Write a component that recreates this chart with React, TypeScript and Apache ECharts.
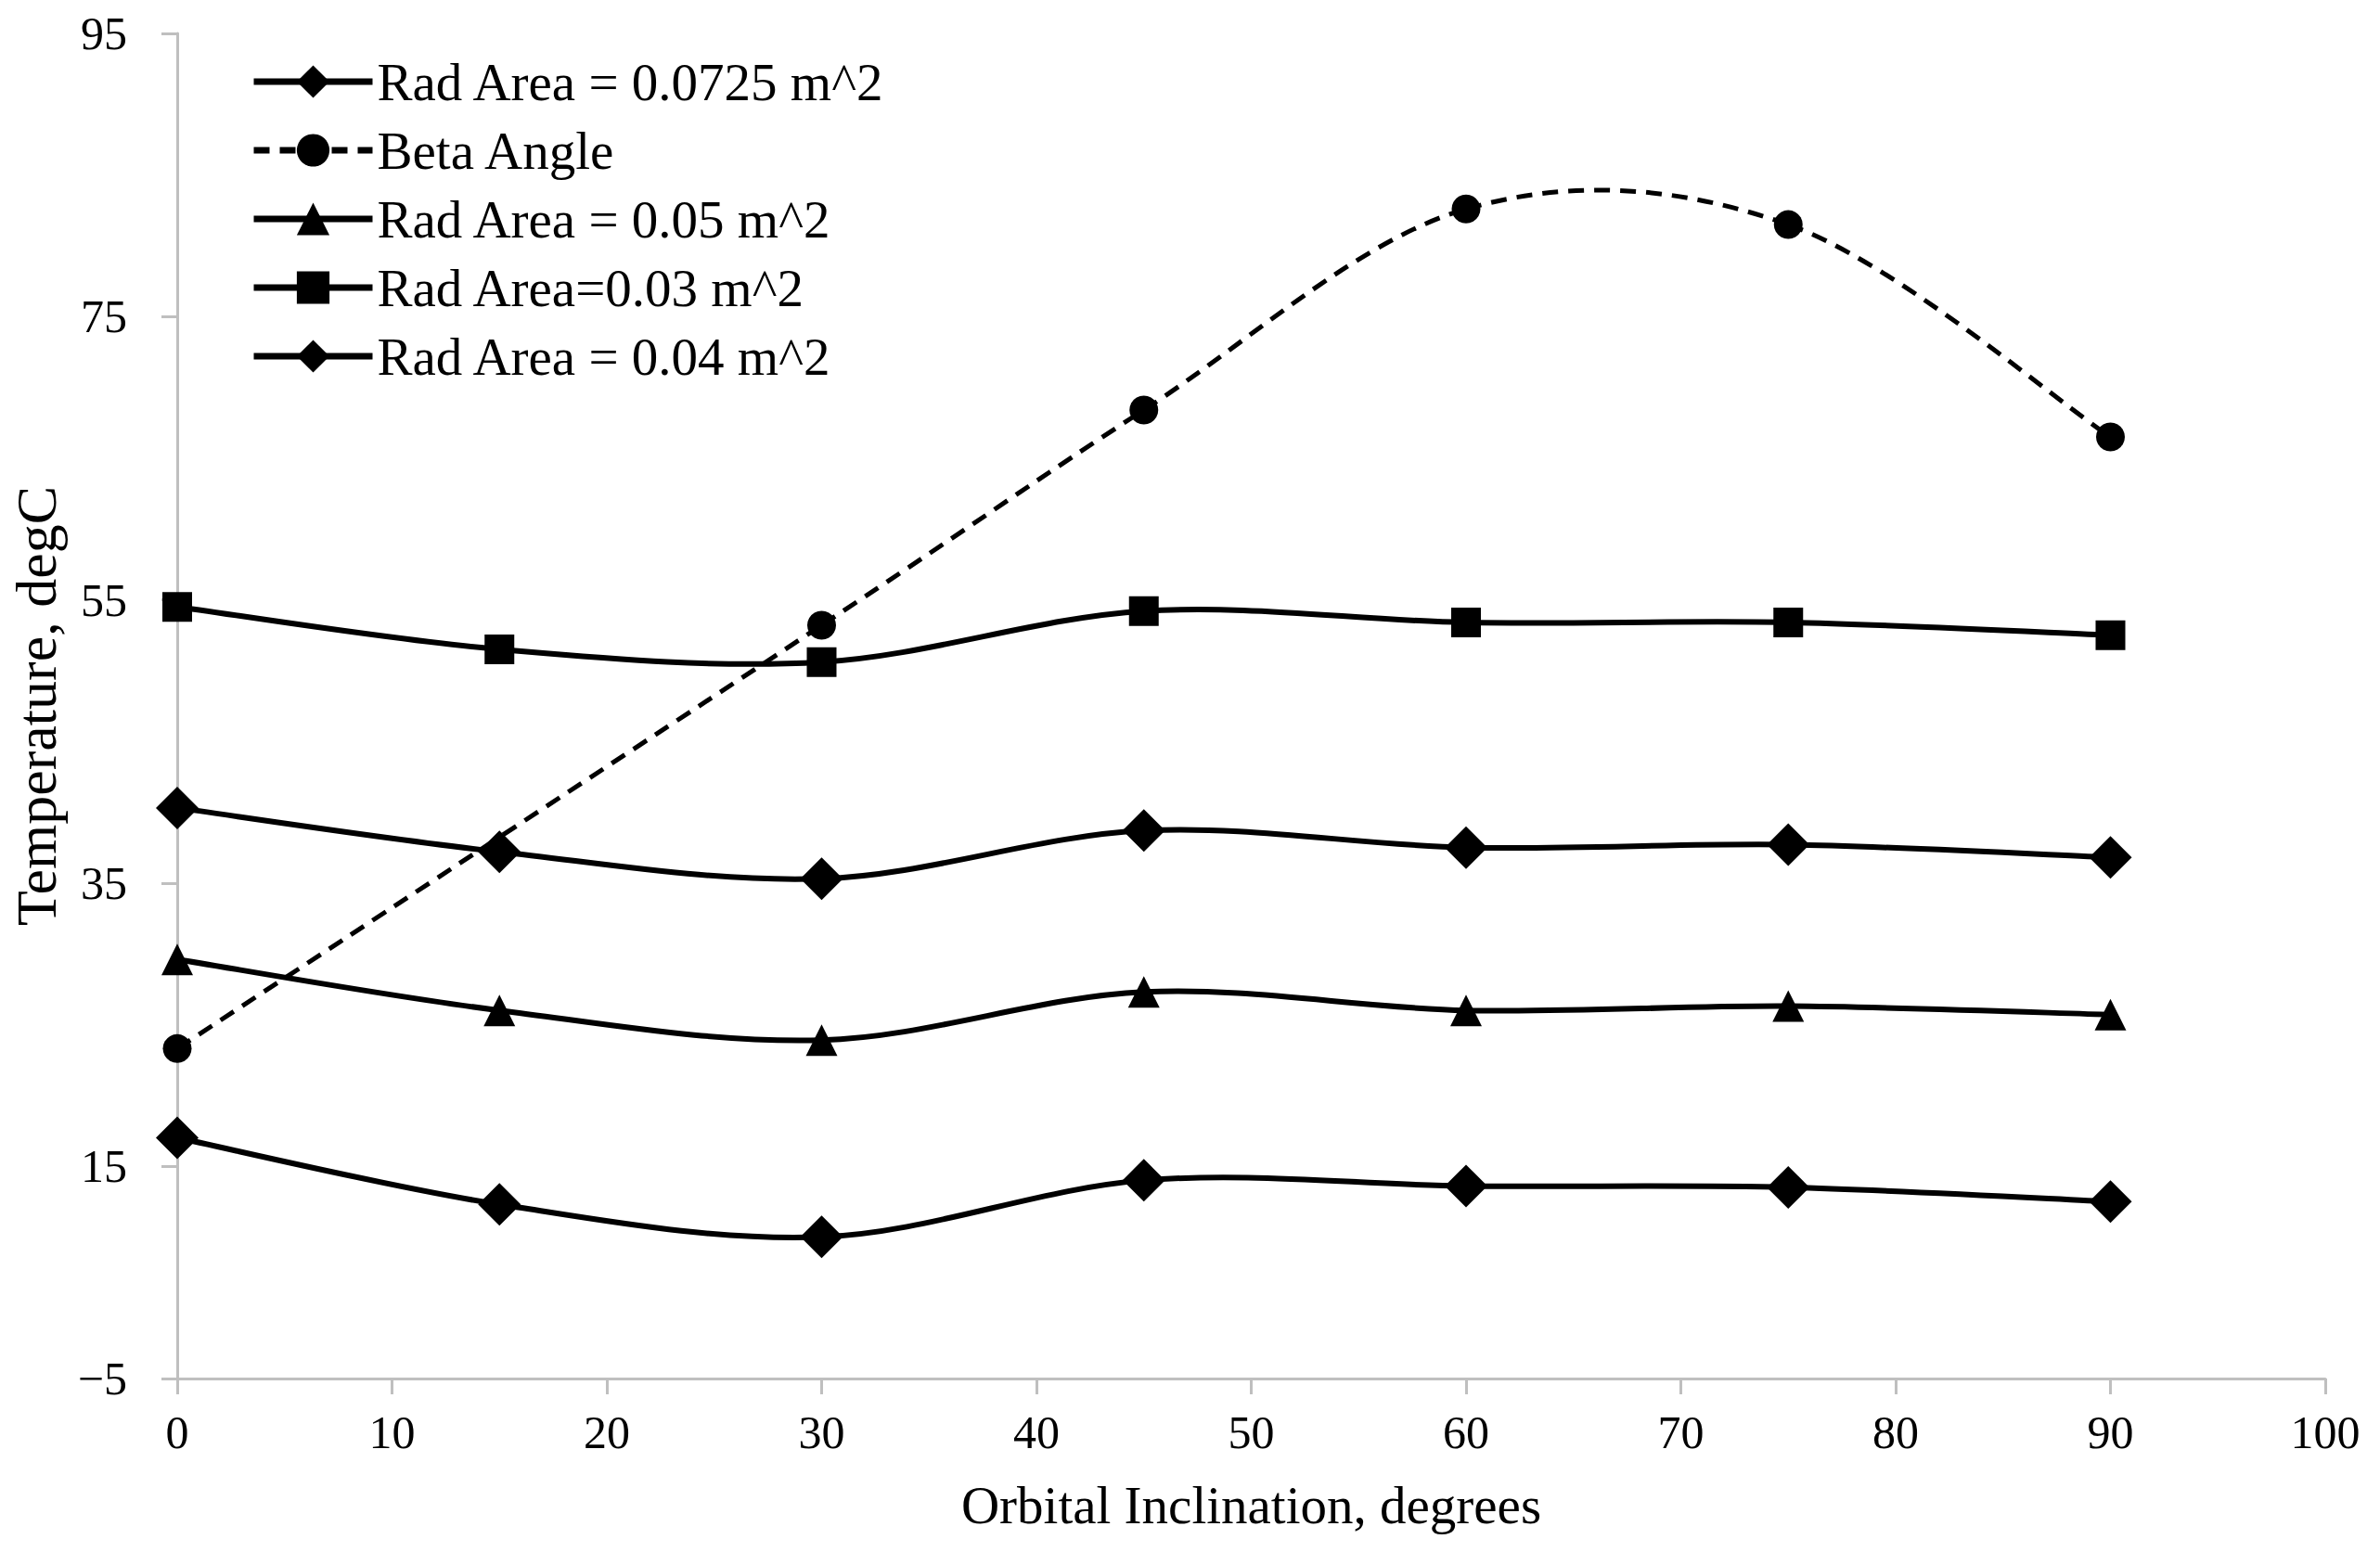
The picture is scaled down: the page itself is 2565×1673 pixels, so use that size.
import React, { useEffect, useRef } from "react";
import * as echarts from "echarts";

const xValues = [0, 15, 30, 45, 60, 75, 90];
const rad0725 = [17.0, 12.3, 10.0, 14.0, 13.6, 13.5, 12.5];
const betaX = [0, 30, 45, 60, 75, 90];
const betaAngle = [23.3, 53.2, 68.4, 82.6, 81.5, 66.5];
const rad05 = [29.6, 26.0, 23.9, 27.3, 26.0, 26.3, 25.7];
const rad03 = [54.5, 51.5, 50.6, 54.2, 53.4, 53.4, 52.5];
const rad04 = [40.3, 37.2, 35.3, 38.7, 37.5, 37.7, 36.8];

const seriesNames = [
  "Rad Area = 0.0725 m^2",
  "Beta Angle",
  "Rad Area = 0.05 m^2",
  "Rad Area=0.03 m^2",
  "Rad Area = 0.04 m^2",
];

const yTickValues = [0, 15, 35, 55, 75, 95];
const yTickLabels = ["\u22125", "15", "35", "55", "75", "95"];

const FONT = "'Liberation Serif', 'Times New Roman', serif";

function pairs(xs: number[], ys: number[]) {
  return xs.map((x, i) => [x, ys[i]]);
}

export default function App() {
  const ref = useRef<HTMLDivElement>(null);
  useEffect(() => {
    if (!ref.current) return;
    const chart = echarts.init(ref.current, null, { renderer: "svg" });

    const SOLID_W = 6;
    const DASH_W = 5;
    const DASH = [17, 11];

    // Smooth (Catmull-Rom style) curve through the points, positioned by the axes via api.coord
    const curveSeries = (name: string, pts: number[][], dashed = false) => ({
      type: "custom",
      name: name + " curve",
      coordinateSystem: "cartesian2d",
      data: pts,
      silent: true,
      z: 1,
      renderItem: (params: any, api: any) => {
        if (params.dataIndex !== 0) return null;
        const P = pts.map((p) => api.coord(p));
        const children: any[] = [];
        for (let i = 0; i < P.length - 1; i++) {
          const p0 = P[Math.max(i - 1, 0)];
          const p1 = P[i];
          const p2 = P[i + 1];
          const p3 = P[Math.min(i + 2, P.length - 1)];
          children.push({
            type: "bezierCurve",
            shape: {
              x1: p1[0],
              y1: p1[1],
              cpx1: p1[0] + (p2[0] - p0[0]) / 6,
              cpy1: p1[1] + (p2[1] - p0[1]) / 6,
              cpx2: p2[0] - (p3[0] - p1[0]) / 6,
              cpy2: p2[1] - (p3[1] - p1[1]) / 6,
              x2: p2[0],
              y2: p2[1],
            },
            style: dashed
              ? { stroke: "#000", lineWidth: DASH_W, fill: "none", lineDash: DASH }
              : { stroke: "#000", lineWidth: SOLID_W, fill: "none" },
          });
        }
        return { type: "group", children };
      },
    });

    const markerSeries = (name: string, pts: number[][], symbol: string, size: number, dashed = false) => ({
      name,
      type: "line",
      data: pts,
      symbol,
      symbolSize: size,
      showSymbol: true,
      z: 3,
      lineStyle: dashed
        ? { color: "#000", width: DASH_W, type: DASH, opacity: 0 }
        : { color: "#000", width: SOLID_W, opacity: 0 },
      itemStyle: { color: "#000" },
      emphasis: { disabled: true },
    });

    const p0725 = pairs(xValues, rad0725);
    const pBeta = pairs(betaX, betaAngle);
    const p05 = pairs(xValues, rad05);
    const p03 = pairs(xValues, rad03);
    const p04 = pairs(xValues, rad04);

    chart.setOption({
      animation: false,
      backgroundColor: "#fff",
      grid: { left: 191, right: 59, top: 36, bottom: 187, containLabel: false },
      legend: {
        orient: "vertical",
        left: 270,
        top: 58,
        padding: 0,
        itemWidth: 128,
        itemHeight: 44,
        itemGap: 14,
        data: seriesNames,
        lineStyle: { width: 7, opacity: 1 },
        textStyle: { fontFamily: FONT, fontSize: 57, color: "#000", lineHeight: 60 },
      },
      xAxis: {
        type: "value",
        min: 0,
        max: 100,
        interval: 10,
        name: "Orbital Inclination, degrees",
        nameLocation: "middle",
        nameGap: 108,
        nameTextStyle: { fontFamily: FONT, fontSize: 57, color: "#000" },
        axisLine: { show: true, lineStyle: { color: "#bfbfbf", width: 3 } },
        axisTick: { show: true, inside: false, length: 17, lineStyle: { color: "#bfbfbf", width: 3 } },
        axisLabel: { fontFamily: FONT, fontSize: 50, color: "#000", margin: 33 },
        splitLine: { show: false },
      },
      yAxis: {
        type: "value",
        min: 0,
        max: 95,
        name: "Temperature, degC",
        nameLocation: "middle",
        nameRotate: 90,
        nameGap: 121,
        nameTextStyle: { fontFamily: FONT, fontSize: 62, color: "#000" },
        axisLine: { show: true, lineStyle: { color: "#bfbfbf", width: 3 } },
        axisTick: {
          show: true,
          inside: false,
          length: 17,
          customValues: yTickValues,
          lineStyle: { color: "#bfbfbf", width: 3 },
        },
        axisLabel: {
          fontFamily: FONT,
          fontSize: 50,
          color: "#000",
          margin: 54,
          customValues: yTickValues,
          formatter: (v: number) => {
            const i = yTickValues.indexOf(v);
            return i >= 0 ? yTickLabels[i] : "";
          },
        },
        splitLine: { show: false },
      },
      series: [
        curveSeries(seriesNames[0], p0725),
        curveSeries(seriesNames[1], pBeta, true),
        curveSeries(seriesNames[2], p05),
        curveSeries(seriesNames[3], p03),
        curveSeries(seriesNames[4], p04),
        markerSeries(seriesNames[0], p0725, "diamond", 46),
        markerSeries(seriesNames[1], pBeta, "circle", 31, true),
        markerSeries(seriesNames[2], p05, "triangle", 34),
        markerSeries(seriesNames[3], p03, "rect", 32),
        markerSeries(seriesNames[4], p04, "diamond", 46),
      ],
    });
    return () => chart.dispose();
  }, []);
  return (
    <div
      ref={ref}
      style={{ position: "fixed", left: 0, top: 0, width: 2565, height: 1673, background: "#fff" }}
    />
  );
}
